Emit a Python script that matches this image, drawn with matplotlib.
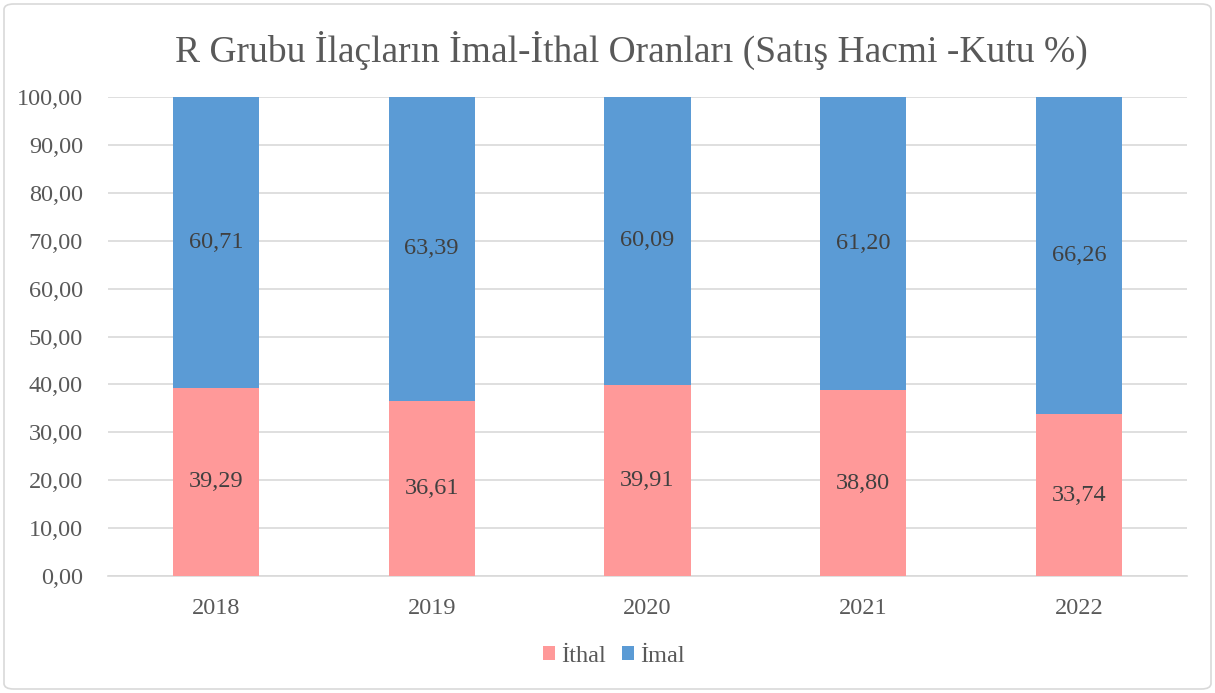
import matplotlib.pyplot as plt
from matplotlib.patches import FancyBboxPatch

plt.rcParams['font.family'] = ['Liberation Serif', 'DejaVu Serif']

years = ["2018", "2019", "2020", "2021", "2022"]
ithal = [39.29, 36.61, 39.91, 38.80, 33.74]
imal = [60.71, 63.39, 60.09, 61.20, 66.26]

text_color = "#595959"
pink = "#FF9999"
blue = "#5B9BD5"

fig = plt.figure(figsize=(12.15, 6.93), dpi=100)
ax = fig.add_axes([108 / 1215, 1 - 576 / 693, (1187 - 108) / 1215, (576 - 97) / 693])

x = range(len(years))
b1 = ax.bar(x, ithal, width=0.4, color=pink, label="İthal", zorder=3)
b2 = ax.bar(x, imal, width=0.4, bottom=ithal, color=blue, label="İmal", zorder=3)

def fmt(v):
    return f"{v:.2f}".replace(".", ",")

for i in x:
    ax.text(i, ithal[i] / 2, fmt(ithal[i]), ha="center", va="center",
            fontsize=17.5, color="#404040", zorder=4)
    ax.text(i, ithal[i] + imal[i] / 2, fmt(imal[i]), ha="center", va="center",
            fontsize=17.5, color="#404040", zorder=4)

ax.set_xlim(-0.5, len(years) - 0.5)
ax.set_ylim(0, 100)
ax.set_yticks(range(0, 101, 10))
ax.set_yticklabels([fmt(v) for v in range(0, 101, 10)])
ax.set_xticks(list(x))
ax.set_xticklabels(years)
ax.tick_params(axis="both", length=0, labelsize=17.5, labelcolor=text_color)
ax.tick_params(axis="y", pad=18)
ax.tick_params(axis="x", pad=16)
ax.yaxis.grid(True, color="#D9D9D9", linewidth=1.2, zorder=0)
for s in ["top", "right", "left"]:
    ax.spines[s].set_visible(False)
ax.spines["bottom"].set_color("#D9D9D9")
ax.spines["bottom"].set_linewidth(1.2)

fig.text(631 / 1215, 1 - 50 / 693, "R Grubu İlaçların İmal-İthal Oranları (Satış Hacmi -Kutu %)",
         ha="center", va="center", fontsize=27, color=text_color)

fig.legend(handles=[b1, b2], loc="center", bbox_to_anchor=(614 / 1215, 1 - 656 / 693),
           ncol=2, frameon=False, fontsize=17.5, handlelength=0.5, handleheight=0.5,
           handletextpad=0.25, columnspacing=0.65, labelcolor=text_color)

border = FancyBboxPatch((4 / 1215, 4 / 693), 1 - 8 / 1215, 1 - 8 / 693,
                        boxstyle="round,pad=0,rounding_size=0.008",
                        transform=fig.transFigure, fill=False,
                        edgecolor="#D9D9D9", linewidth=1.2)
fig.patches.append(border)

fig.savefig("out.png", dpi=100)
